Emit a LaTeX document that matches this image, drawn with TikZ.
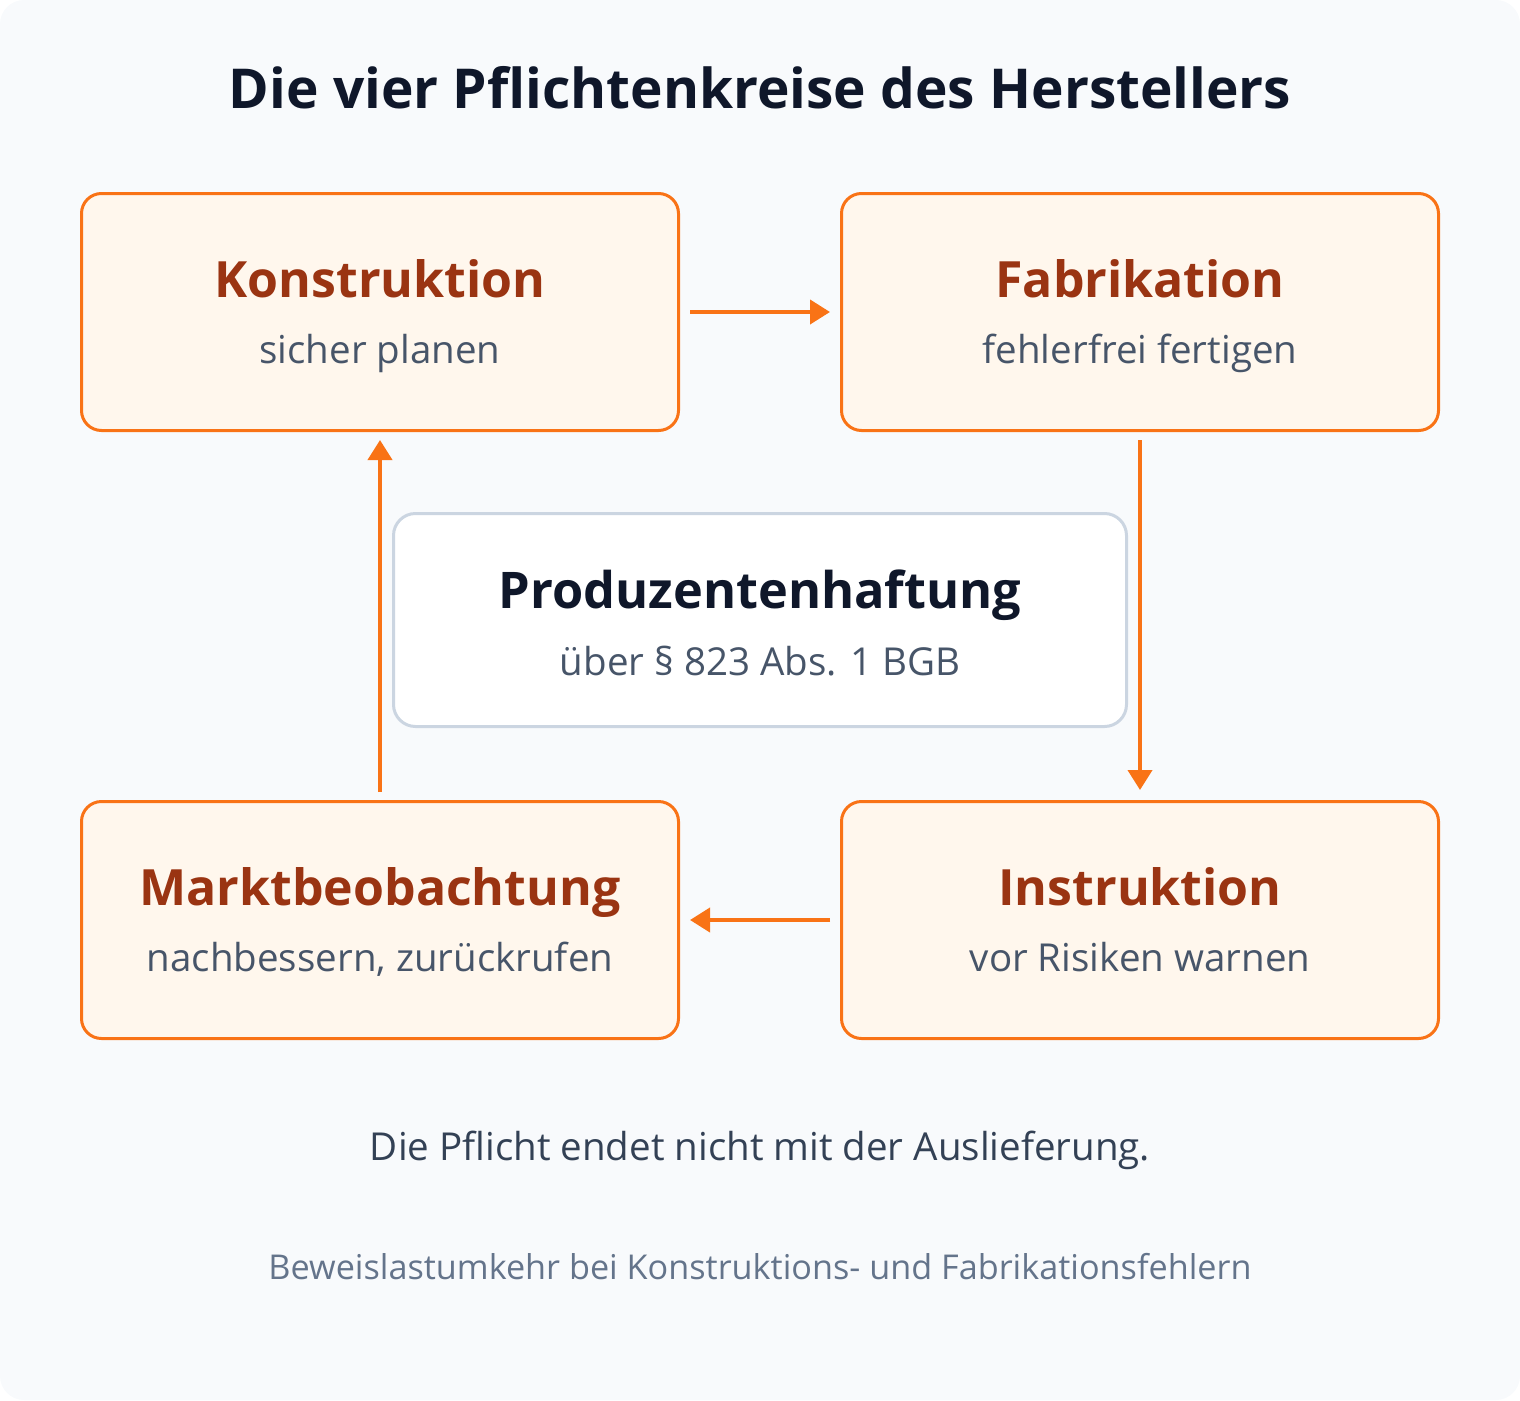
\documentclass[tikz,border=0pt]{standalone}
\usepackage{fontspec}
\setmainfont{Open Sans}
\usetikzlibrary{arrows.meta}
\definecolor{bgc}{HTML}{F8FAFC}
\definecolor{orng}{HTML}{F97316}
\definecolor{boxfill}{HTML}{FFF7ED}
\definecolor{boxtitle}{HTML}{9A3412}
\definecolor{subc}{HTML}{475569}
\definecolor{darkc}{HTML}{0F172A}
\definecolor{cstroke}{HTML}{CBD5E1}
\definecolor{foot1}{HTML}{334155}
\definecolor{foot2}{HTML}{64748B}
\tikzset{
  duty/.style={draw=orng, fill=boxfill, line width=3pt, rounded corners=20pt, minimum width=597pt, minimum height=237pt, inner sep=0pt},
  core/.style={draw=cstroke, fill=white, line width=3pt, rounded corners=22pt, minimum width=733pt, minimum height=213pt, inner sep=0pt},
  dutytitle/.style={anchor=base, inner sep=0pt, text=boxtitle, font=\fontsize{50}{56}\selectfont\bfseries},
  dutysub/.style={anchor=base, inner sep=0pt, text=subc, font=\fontsize{38.5}{44}\selectfont},
  arr/.style={draw=orng, line width=4pt, -{Triangle[length=20pt,width=24pt]}},
}
\begin{document}
\begin{tikzpicture}[x=1pt,y=-1pt]
\useasboundingbox (0,0) rectangle (1520,1400);
\fill[bgc, rounded corners=24pt] (0,0) rectangle (1520,1400);
\node[anchor=base, inner sep=0pt, text=darkc, font=\fontsize{55}{60}\selectfont\bfseries] (title) at (760,108) {Die vier Pflichtenkreise des Herstellers};

\node[duty] (K) at (380,312) {};
\node[duty] (F) at (1140,312) {};
\node[duty] (M) at (380,920) {};
\node[duty] (I) at (1140,920) {};
\node[core] (C) at (760,620) {};

\node[dutytitle] (Kt) at (380,297) {Konstruktion};
\node[dutysub] (Ks) at (380,363) {sicher planen};
\node[dutytitle] (Ft) at (1140,297) {Fabrikation};
\node[dutysub] (Fs) at (1140,363) {fehlerfrei fertigen};
\node[dutytitle] (Mt) at (380,905) {Marktbeobachtung};
\node[dutysub] (Ms) at (380,971) {nachbessern, zurückrufen};
\node[dutytitle] (It) at (1140,905) {Instruktion};
\node[dutysub] (Is) at (1140,971) {vor Risiken warnen};

\node[anchor=base, inner sep=0pt, text=darkc, font=\fontsize{50.5}{56}\selectfont\bfseries] (Ct) at (760,608) {Produzentenhaftung};
\node[anchor=base, inner sep=0pt, text=subc, font=\fontsize{38.5}{44}\selectfont] (Cs) at (760,675) {über § 823 Abs. 1 BGB};

\draw[arr] ([xshift=10pt]K.east) -- ([xshift=-10pt]F.west);
\draw[arr] ([yshift=-8pt]F.south) -- ([yshift=10pt]I.north);
\draw[arr] ([xshift=-10pt]I.west) -- ([xshift=10pt]M.east);
\draw[arr] ([yshift=8pt]M.north) -- ([yshift=-8pt]K.south);

\node[anchor=base, inner sep=0pt, text=foot1, font=\fontsize{38.5}{44}\selectfont] (f1) at (760,1160) {Die Pflicht endet nicht mit der Auslieferung.};
\node[anchor=base, inner sep=0pt, text=foot2, font=\fontsize{34.2}{40}\selectfont] (f2) at (760,1279) {Beweislastumkehr bei Konstruktions- und Fabrikationsfehlern};
\end{tikzpicture}
\end{document}
